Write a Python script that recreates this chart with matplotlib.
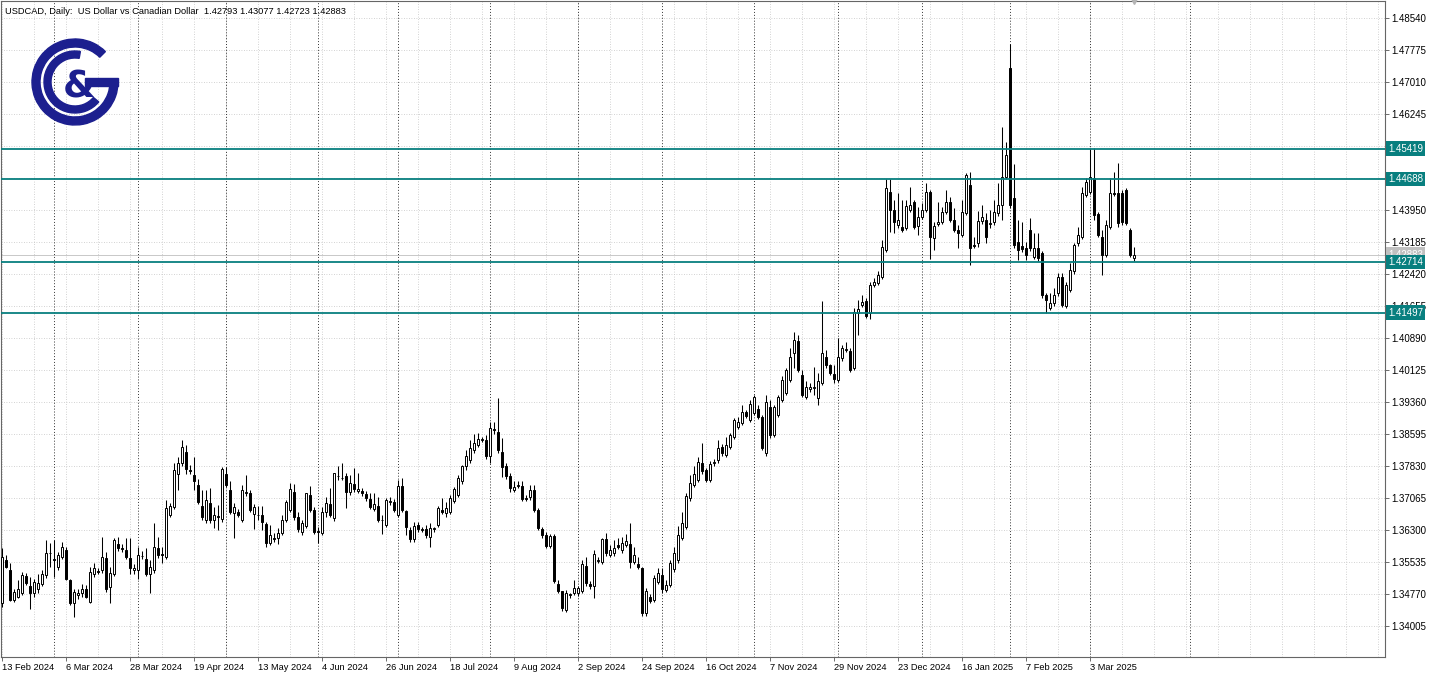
import numpy as np
import pandas as pd
import matplotlib.pyplot as plt
from matplotlib.patches import Wedge, Rectangle
from matplotlib.transforms import blended_transform_factory

plt.rcParams.update({"font.family": ["Liberation Sans", "DejaVu Sans"], "font.size": 7})

# USDCAD daily candles, 13 Feb 2024 .. 18 Mar 2025
open_ = [
    1.3455, 1.3558, 1.3534, 1.3463, 1.3471, 1.3479, 1.3520, 1.3496, 1.3479, 1.3488,
    1.3502, 1.3522, 1.3574, 1.3560, 1.3542, 1.3566, 1.3582, 1.3510, 1.3456, 1.3475,
    1.3479, 1.3490, 1.3459, 1.3526, 1.3532, 1.3534, 1.3562, 1.3494, 1.3526, 1.3597,
    1.3588, 1.3582, 1.3564, 1.3534, 1.3534, 1.3567, 1.3560, 1.3525, 1.3534, 1.3586,
    1.3572, 1.3566, 1.3666, 1.3686, 1.3765, 1.3789, 1.3817, 1.3774, 1.3761, 1.3738,
    1.3688, 1.3654, 1.3694, 1.3654, 1.3663, 1.3656, 1.3764, 1.3726, 1.3670, 1.3674,
    1.3654, 1.3718, 1.3718, 1.3668, 1.3667, 1.3666, 1.3644, 1.3598, 1.3611, 1.3612,
    1.3622, 1.3654, 1.3678, 1.3722, 1.3660, 1.3626, 1.3640, 1.3714, 1.3678, 1.3627,
    1.3624, 1.3674, 1.3692, 1.3658, 1.3760, 1.3755, 1.3758, 1.3722, 1.3740, 1.3724,
    1.3723, 1.3716, 1.3704, 1.3680, 1.3687, 1.3655, 1.3642, 1.3696, 1.3698, 1.3666,
    1.3734, 1.3676, 1.3630, 1.3608, 1.3642, 1.3631, 1.3632, 1.3614, 1.3633, 1.3642,
    1.3678, 1.3670, 1.3674, 1.3700, 1.3714, 1.3746, 1.3783, 1.3797, 1.3821, 1.3833,
    1.3846, 1.3845, 1.3807, 1.3871, 1.3865, 1.3817, 1.3783, 1.3758, 1.3726, 1.3734,
    1.3736, 1.3707, 1.3708, 1.3726, 1.3678, 1.3632, 1.3618, 1.3592, 1.3616, 1.3501,
    1.3483, 1.3439, 1.3474, 1.3479, 1.3479, 1.3485, 1.3544, 1.3501, 1.3495, 1.3557,
    1.3554, 1.3608, 1.3570, 1.3574, 1.3594, 1.3581, 1.3594, 1.3597, 1.3554, 1.3549,
    1.3539, 1.3431, 1.3471, 1.3463, 1.3505, 1.3523, 1.3487, 1.3499, 1.3536, 1.3558,
    1.3610, 1.3638, 1.3706, 1.3738, 1.3750, 1.3791, 1.3773, 1.3750, 1.3791, 1.3797,
    1.3829, 1.3809, 1.3829, 1.3853, 1.3877, 1.3885, 1.3911, 1.3893, 1.3909, 1.3919,
    1.3901, 1.3813, 1.3925, 1.3857, 1.3905, 1.3941, 1.3957, 1.3989, 1.4052, 1.4083,
    1.4001, 1.3949, 1.3966, 1.3969, 1.3945, 1.3981, 1.4044, 1.4024, 1.4003, 1.3989,
    1.4040, 1.4061, 1.4059, 1.4017, 1.4148, 1.4168, 1.4178, 1.4148, 1.4216, 1.4221,
    1.4235, 1.4299, 1.4439, 1.4395, 1.4359, 1.4355, 1.4351, 1.4395, 1.4413, 1.4357,
    1.4379, 1.4395, 1.4439, 1.4327, 1.4362, 1.4367, 1.4391, 1.4415, 1.4371, 1.4346,
    1.4335, 1.4387, 1.4455, 1.4312, 1.4317, 1.4369, 1.4371, 1.4361, 1.4367, 1.4387,
    1.4407, 1.4475, 1.4734, 1.4423, 1.4319, 1.4309, 1.4303, 1.4347, 1.4283, 1.4303,
    1.4291, 1.4192, 1.4160, 1.4172, 1.4196, 1.4236, 1.4166, 1.4204, 1.4248, 1.4315,
    1.4331, 1.4431, 1.4439, 1.4471, 1.4385, 1.4331, 1.4287, 1.4355, 1.4436, 1.4435,
    1.4435, 1.4443, 1.4347, 1.42793,
]
high = [
    1.3586, 1.3570, 1.3550, 1.3490, 1.3510, 1.3530, 1.3528, 1.3518, 1.3512, 1.3524,
    1.3534, 1.3606, 1.3598, 1.3606, 1.3578, 1.3602, 1.3590, 1.3514, 1.3490, 1.3490,
    1.3502, 1.3498, 1.3542, 1.3550, 1.3540, 1.3614, 1.3578, 1.3542, 1.3612, 1.3614,
    1.3596, 1.3610, 1.3610, 1.3548, 1.3590, 1.3580, 1.3586, 1.3558, 1.3646, 1.3614,
    1.3590, 1.3702, 1.3694, 1.3789, 1.3805, 1.3845, 1.3833, 1.3785, 1.3805, 1.3751,
    1.3726, 1.3726, 1.3730, 1.3686, 1.3690, 1.3781, 1.3781, 1.3746, 1.3694, 1.3680,
    1.3738, 1.3761, 1.3726, 1.3692, 1.3688, 1.3687, 1.3650, 1.3642, 1.3622, 1.3634,
    1.3666, 1.3702, 1.3742, 1.3740, 1.3672, 1.3654, 1.3719, 1.3734, 1.3686, 1.3638,
    1.3686, 1.3710, 1.3730, 1.3767, 1.3783, 1.3791, 1.3766, 1.3762, 1.3778, 1.3766,
    1.3730, 1.3724, 1.3718, 1.3718, 1.3710, 1.3666, 1.3706, 1.3710, 1.3704, 1.3750,
    1.3754, 1.3678, 1.3638, 1.3650, 1.3648, 1.3638, 1.3642, 1.3646, 1.3638, 1.3687,
    1.3706, 1.3698, 1.3714, 1.3732, 1.3762, 1.3785, 1.3821, 1.3845, 1.3860, 1.3861,
    1.3852, 1.3857, 1.3889, 1.3889, 1.3945, 1.3851, 1.3789, 1.3766, 1.3746, 1.3746,
    1.3746, 1.3714, 1.3738, 1.3738, 1.3682, 1.3638, 1.3626, 1.3620, 1.3620, 1.3511,
    1.3485, 1.3487, 1.3480, 1.3511, 1.3497, 1.3558, 1.3566, 1.3508, 1.3581, 1.3566,
    1.3610, 1.3622, 1.3594, 1.3606, 1.3610, 1.3614, 1.3620, 1.3646, 1.3590, 1.3566,
    1.3541, 1.3491, 1.3478, 1.3522, 1.3539, 1.3539, 1.3511, 1.3558, 1.3590, 1.3640,
    1.3674, 1.3719, 1.3762, 1.3783, 1.3804, 1.3837, 1.3778, 1.3795, 1.3800, 1.3845,
    1.3835, 1.3853, 1.3861, 1.3898, 1.3901, 1.3929, 1.3918, 1.3941, 1.3953, 1.3929,
    1.3905, 1.3953, 1.3941, 1.3929, 1.3953, 1.3997, 1.4017, 1.4064, 1.4104, 1.4096,
    1.4013, 1.3985, 1.3981, 1.4020, 1.4005, 1.4178, 1.4060, 1.4028, 1.4024, 1.4088,
    1.4072, 1.4080, 1.4064, 1.4160, 1.4180, 1.4192, 1.4184, 1.4224, 1.4232, 1.4248,
    1.4323, 1.4468, 1.4468, 1.4419, 1.4435, 1.4419, 1.4419, 1.4449, 1.4419, 1.4403,
    1.4411, 1.4460, 1.4443, 1.4367, 1.4415, 1.4403, 1.4443, 1.4427, 1.4399, 1.4359,
    1.4419, 1.4483, 1.4487, 1.4331, 1.4393, 1.4407, 1.4387, 1.4395, 1.4419, 1.4460,
    1.4594, 1.4558, 1.4793, 1.4506, 1.4371, 1.4367, 1.4319, 1.4375, 1.4339, 1.4339,
    1.4297, 1.4196, 1.4196, 1.4208, 1.4244, 1.4244, 1.4224, 1.4268, 1.4315, 1.4355,
    1.4451, 1.4471, 1.4542, 1.4542, 1.4391, 1.4347, 1.4371, 1.4471, 1.4487, 1.4507,
    1.4443, 1.4447, 1.4351, 1.43077,
]
low = [
    1.3447, 1.3538, 1.3460, 1.3458, 1.3467, 1.3475, 1.3498, 1.3440, 1.3470, 1.3479,
    1.3495, 1.3515, 1.3542, 1.3518, 1.3535, 1.3560, 1.3510, 1.3450, 1.3421, 1.3465,
    1.3470, 1.3467, 1.3455, 1.3518, 1.3524, 1.3528, 1.3482, 1.3456, 1.3520, 1.3580,
    1.3578, 1.3560, 1.3526, 1.3526, 1.3514, 1.3560, 1.3520, 1.3479, 1.3528, 1.3564,
    1.3550, 1.3560, 1.3662, 1.3680, 1.3726, 1.3782, 1.3765, 1.3765, 1.3726, 1.3692,
    1.3654, 1.3646, 1.3646, 1.3634, 1.3630, 1.3650, 1.3732, 1.3668, 1.3610, 1.3660,
    1.3648, 1.3712, 1.3672, 1.3632, 1.3655, 1.3630, 1.3590, 1.3594, 1.3602, 1.3597,
    1.3618, 1.3650, 1.3672, 1.3654, 1.3626, 1.3618, 1.3634, 1.3672, 1.3620, 1.3600,
    1.3618, 1.3662, 1.3662, 1.3652, 1.3750, 1.3750, 1.3682, 1.3714, 1.3722, 1.3718,
    1.3712, 1.3700, 1.3680, 1.3675, 1.3648, 1.3620, 1.3636, 1.3690, 1.3672, 1.3660,
    1.3672, 1.3618, 1.3602, 1.3602, 1.3626, 1.3626, 1.3612, 1.3590, 1.3626, 1.3636,
    1.3668, 1.3660, 1.3668, 1.3694, 1.3708, 1.3740, 1.3774, 1.3790, 1.3815, 1.3828,
    1.3840, 1.3800, 1.3789, 1.3860, 1.3815, 1.3757, 1.3752, 1.3722, 1.3722, 1.3730,
    1.3700, 1.3700, 1.3702, 1.3674, 1.3630, 1.3612, 1.3588, 1.3588, 1.3503, 1.3480,
    1.3437, 1.3433, 1.3468, 1.3474, 1.3472, 1.3480, 1.3497, 1.3488, 1.3467, 1.3550,
    1.3548, 1.3568, 1.3565, 1.3568, 1.3585, 1.3576, 1.3590, 1.3539, 1.3548, 1.3536,
    1.3425, 1.3425, 1.3455, 1.3458, 1.3500, 1.3480, 1.3482, 1.3494, 1.3530, 1.3552,
    1.3605, 1.3632, 1.3700, 1.3732, 1.3745, 1.3765, 1.3745, 1.3745, 1.3784, 1.3790,
    1.3808, 1.3804, 1.3824, 1.3848, 1.3872, 1.3880, 1.3898, 1.3888, 1.3904, 1.3896,
    1.3821, 1.3808, 1.3851, 1.3853, 1.3900, 1.3936, 1.3952, 1.3984, 1.4017, 1.4008,
    1.3948, 1.3944, 1.3960, 1.3953, 1.3929, 1.3976, 1.4018, 1.4000, 1.3981, 1.3984,
    1.4035, 1.4055, 1.4008, 1.4012, 1.4096, 1.4162, 1.4136, 1.4134, 1.4210, 1.4215,
    1.4230, 1.4294, 1.4343, 1.4339, 1.4352, 1.4342, 1.4347, 1.4390, 1.4350, 1.4335,
    1.4374, 1.4390, 1.4279, 1.4299, 1.4357, 1.4362, 1.4386, 1.4366, 1.4342, 1.4303,
    1.4330, 1.4382, 1.4264, 1.4303, 1.4307, 1.4362, 1.4315, 1.4352, 1.4360, 1.4380,
    1.4371, 1.4468, 1.4400, 1.4305, 1.4275, 1.4295, 1.4276, 1.4297, 1.4278, 1.4274,
    1.4184, 1.4148, 1.4156, 1.4166, 1.4190, 1.4162, 1.4160, 1.4198, 1.4242, 1.4310,
    1.4326, 1.4425, 1.4433, 1.4371, 1.4330, 1.4240, 1.4282, 1.4350, 1.4428, 1.4355,
    1.4360, 1.4358, 1.4282, 1.42723,
]
close = [
    1.3566, 1.3542, 1.3463, 1.3482, 1.3490, 1.3522, 1.3504, 1.3480, 1.3506, 1.3504,
    1.3526, 1.3574, 1.3576, 1.3558, 1.3570, 1.3590, 1.3514, 1.3456, 1.3482, 1.3480,
    1.3490, 1.3471, 1.3530, 1.3538, 1.3530, 1.3566, 1.3490, 1.3528, 1.3606, 1.3586,
    1.3585, 1.3566, 1.3538, 1.3540, 1.3570, 1.3569, 1.3526, 1.3542, 1.3589, 1.3570,
    1.3571, 1.3682, 1.3688, 1.3773, 1.3789, 1.3829, 1.3777, 1.3772, 1.3746, 1.3698,
    1.3662, 1.3702, 1.3654, 1.3666, 1.3661, 1.3777, 1.3738, 1.3674, 1.3686, 1.3666,
    1.3726, 1.3722, 1.3678, 1.3686, 1.3665, 1.3650, 1.3600, 1.3618, 1.3609, 1.3624,
    1.3654, 1.3696, 1.3727, 1.3662, 1.3632, 1.3646, 1.3718, 1.3678, 1.3626, 1.3625,
    1.3674, 1.3694, 1.3666, 1.3766, 1.3758, 1.3754, 1.3722, 1.3742, 1.3728, 1.3727,
    1.3718, 1.3706, 1.3686, 1.3692, 1.3654, 1.3653, 1.3702, 1.3700, 1.3678, 1.3734,
    1.3678, 1.3636, 1.3608, 1.3640, 1.3632, 1.3632, 1.3618, 1.3634, 1.3635, 1.3682,
    1.3672, 1.3682, 1.3706, 1.3727, 1.3754, 1.3783, 1.3807, 1.3825, 1.3837, 1.3847,
    1.3848, 1.3807, 1.3873, 1.3869, 1.3821, 1.3781, 1.3758, 1.3730, 1.3732, 1.3738,
    1.3704, 1.3705, 1.3726, 1.3678, 1.3634, 1.3618, 1.3592, 1.3616, 1.3507, 1.3485,
    1.3443, 1.3479, 1.3476, 1.3491, 1.3491, 1.3549, 1.3503, 1.3495, 1.3573, 1.3559,
    1.3608, 1.3574, 1.3581, 1.3586, 1.3590, 1.3598, 1.3604, 1.3554, 1.3570, 1.3541,
    1.3431, 1.3485, 1.3461, 1.3515, 1.3527, 1.3488, 1.3499, 1.3550, 1.3576, 1.3618,
    1.3646, 1.3711, 1.3742, 1.3764, 1.3793, 1.3770, 1.3750, 1.3788, 1.3793, 1.3825,
    1.3813, 1.3834, 1.3857, 1.3893, 1.3887, 1.3913, 1.3903, 1.3931, 1.3947, 1.3901,
    1.3825, 1.3937, 1.3857, 1.3925, 1.3949, 1.3989, 1.4013, 1.4043, 1.4084, 1.4013,
    1.3953, 1.3973, 1.3971, 1.3971, 1.3985, 1.4052, 1.4024, 1.4006, 1.3990, 1.4043,
    1.4064, 1.4063, 1.4013, 1.4152, 1.4158, 1.4174, 1.4142, 1.4216, 1.4224, 1.4239,
    1.4307, 1.4447, 1.4395, 1.4367, 1.4370, 1.4347, 1.4405, 1.4407, 1.4355, 1.4379,
    1.4395, 1.4439, 1.4330, 1.4357, 1.4367, 1.4391, 1.4413, 1.4371, 1.4347, 1.4339,
    1.4391, 1.4479, 1.4303, 1.4310, 1.4369, 1.4379, 1.4330, 1.4363, 1.4391, 1.4407,
    1.4474, 1.4526, 1.4407, 1.4311, 1.4299, 1.4301, 1.4287, 1.4303, 1.4303, 1.4280,
    1.4192, 1.4180, 1.4172, 1.4192, 1.4236, 1.4168, 1.4216, 1.4252, 1.4311, 1.4335,
    1.4435, 1.4463, 1.4475, 1.4383, 1.4335, 1.4287, 1.4359, 1.4435, 1.4434, 1.4363,
    1.4367, 1.4363, 1.4287, 1.42883,
]

holidays = ["2024-12-25", "2025-01-01"]
price_ticks = [1.48540, 1.47775, 1.47010, 1.46245, 1.45480, 1.44715, 1.43950,
               1.43185, 1.42420, 1.41655, 1.40890, 1.40125, 1.39360, 1.38595,
               1.37830, 1.37065, 1.36300, 1.35535, 1.34770, 1.34005]
levels = [1.45419, 1.44688, 1.42714, 1.41497]
bid = 1.42883
header = "USDCAD, Daily:  US Dollar vs Canadian Dollar  1.42793 1.43077 1.42723 1.42883"

dates = pd.bdate_range("2024-02-13", "2025-03-18")
dates = dates[~dates.isin(pd.to_datetime(holidays))]

W, H = 1433, 674
fig = plt.figure(figsize=(W / 100, H / 100), dpi=100)
fig.patch.set_facecolor("white")
ax = fig.add_axes([1 / W, 1 - 657 / H, 1384 / W, 656 / H])

n = len(close)
x = np.arange(n)
o, hi, lo, c = (np.array(v) for v in (open_, high, low, close))
up = c >= o
body_lo = np.minimum(o, c)
body_h = np.maximum(np.abs(c - o), 0.00003)

ax.vlines(x, lo, hi, color="black", lw=0.75, zorder=3)
ax.bar(x[up], body_h[up], bottom=body_lo[up], width=0.58, color="white",
       edgecolor="black", lw=0.7, zorder=4)
ax.bar(x[~up], body_h[~up], bottom=body_lo[~up], width=0.58, color="black",
       edgecolor="black", lw=0.7, zorder=4)

ax.set_xlim(-0.25, 345.75)
ax.set_ylim(1.33264, 1.48946)

# grid
for p in price_ticks:
    ax.axhline(p, color="#c4c4c4", lw=0.6, ls=(0, (1, 2)), zorder=1)
for i in range(0, 346, 8):
    ax.axvline(i, color="#c4c4c4", lw=0.6, ls=(0, (1, 2)), zorder=1)

# month separators (last one lies in the shifted future area)
month_idx = [i for i in range(1, n) if dates[i].month != dates[i - 1].month]
nxt = (dates[-1] + pd.offsets.MonthBegin(1))
month_idx.append(n - 1 + (nxt - dates[-1]).days)
for i in month_idx:
    ax.axvline(i, color="#333333", lw=0.7, ls=(0, (1, 2)), zorder=2)

# levels and bid line
teal = "#087f7f"
ax.axhline(bid, color="#c8c8c8", lw=0.7, zorder=2)
for lv in levels:
    ax.axhline(lv, color=teal, lw=1.3, zorder=5)

# axes; the scale labels sitting right under a level box are covered there
covered = [p for p in price_ticks if any(abs(p - lv) < 0.0012 for lv in levels)]
ax.yaxis.tick_right()
ax.set_yticks(price_ticks)
ax.set_yticklabels(["" if p in covered else f"{p:.5f}" for p in price_ticks])
lab_idx = list(range(0, n, 16))
ax.set_xticks(lab_idx)
ax.set_xticklabels([f"{dates[i].day} {dates[i].strftime('%b %Y')}" for i in lab_idx],
                   ha="left")
ax.tick_params(axis="y", length=3, width=0.6, color="#555555", pad=1.5, labelsize=7)
ax.tick_params(axis="x", length=3, width=0.6, color="#555555", pad=1.5, labelsize=6.7)
for sp in ax.spines.values():
    sp.set_color("#666666")
    sp.set_linewidth(0.8)

tr = blended_transform_factory(ax.transAxes, ax.transData)
ax.text(1.0022, bid, f"{bid:.5f}", transform=tr, ha="left", va="center", color="white",
        fontsize=7, clip_on=False, zorder=6,
        bbox=dict(boxstyle="square,pad=0.22", fc="#c0c0c0", ec="none"))
for lv in levels:
    ax.text(1.0022, lv, f"{lv:.5f}", transform=tr, ha="left", va="center", color="white",
            fontsize=7, clip_on=False, zorder=7,
            bbox=dict(boxstyle="square,pad=0.22", fc=teal, ec="none"))

# chart shift marker
ax.plot([n - 1], [1.0], marker="v", ms=5, color="#b4b4b4",
        transform=blended_transform_factory(ax.transData, ax.transAxes),
        clip_on=False, zorder=8)

fig.text(5 / W, 1 - 11 / H, header, fontsize=6.7, ha="left", va="center")

# logo
lax = fig.add_axes([28 / W, 1 - 130 / H, 96 / W, 96 / H])
lax.set_xlim(28, 124)
lax.set_ylim(H - 130, H - 34)
lax.axis("off")
navy = "#1c1f8f"
cx, cy = 75, H - 82
lax.add_patch(Wedge((cx, cy), 43, 45, 360, width=8, color=navy))
lax.add_patch(Rectangle((cx + 10, cy - 4), 33, 8, color=navy))
lax.add_patch(Wedge((cx, cy), 31, 80, 320, width=7, color=navy))
lax.text(cx + 4, cy - 6, "&", fontsize=27, fontweight="bold", color=navy,
         ha="center", va="center", family="DejaVu Sans")

fig.savefig("out.png", dpi=100)
